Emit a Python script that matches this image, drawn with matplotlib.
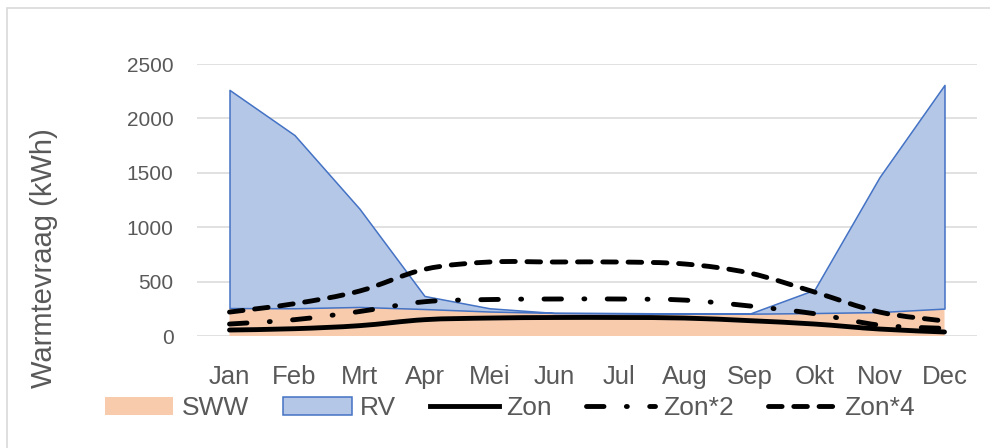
import matplotlib.pyplot as plt
from matplotlib.path import Path
from matplotlib.patches import PathPatch, Patch, Rectangle
from matplotlib.lines import Line2D

plt.rcParams['font.family'] = ['Liberation Sans', 'DejaVu Sans']

months = ['Jan', 'Feb', 'Mrt', 'Apr', 'Mei', 'Jun', 'Jul', 'Aug', 'Sep', 'Okt', 'Nov', 'Dec']
sww = [257, 255, 267, 248, 225, 212, 210, 208, 205, 211, 220, 252]
rv = [2005, 1592, 903, 120, 30, 0, 0, 0, 0, 214, 1240, 2056]
zon = [55, 67, 95, 150, 165, 170, 170, 165, 141, 110, 64, 37]
zon2 = [110, 150, 225, 315, 335, 340, 340, 330, 276, 205, 100, 70]
zon4 = [220, 297, 413, 613, 680, 680, 680, 662, 579, 404, 220, 138]

text_col = '#595959'
lw = 3.5
dashdot = (0, (3.6, 4.6, 0.2, 4.6))
dashed = (0, (2.8, 2.4))


def smooth_path(xs, ys):
    # bezier through the points, like excel's smoothed line
    n = len(xs)
    verts = [(xs[0], ys[0])]
    codes = [Path.MOVETO]
    for i in range(n - 1):
        i0 = max(i - 1, 0)
        i3 = min(i + 2, n - 1)
        c1 = (xs[i] + (xs[i + 1] - xs[i0]) / 6, ys[i] + (ys[i + 1] - ys[i0]) / 6)
        c2 = (xs[i + 1] - (xs[i3] - xs[i]) / 6, ys[i + 1] - (ys[i3] - ys[i]) / 6)
        verts += [c1, c2, (xs[i + 1], ys[i + 1])]
        codes += [Path.CURVE4] * 3
    return Path(verts, codes)


fig = plt.figure(figsize=(9.9, 4.48), dpi=100)
fig.patches.append(Rectangle((7 / 990, -0.1), 1.2, 1.1 - 8 / 448, transform=fig.transFigure,
                             fill=False, edgecolor='#D9D9D9', linewidth=1.2))
ax = fig.add_axes([197 / 990, 1 - 336 / 448, 780 / 990, 272 / 448])

x = list(range(len(months)))
ax.stackplot(x, sww, rv, colors=['#F8CBAD', '#B4C7E7'], zorder=2)
ax.collections[1].set_edgecolor('#4472C4')
ax.collections[1].set_linewidth(1.1)

for ys, ls in [(zon, '-'), (zon2, dashdot), (zon4, dashed)]:
    p = PathPatch(smooth_path(x, ys), fill=False, edgecolor='black', linewidth=lw,
                  linestyle=ls, capstyle='round', joinstyle='round', zorder=3)
    ax.add_patch(p)

ax.set_xlim(-0.5, 11.5)
ax.set_ylim(0, 2500)
ax.set_yticks(range(0, 2501, 500))
ax.set_xticks(x)
ax.set_xticklabels(months)
ax.tick_params(axis='x', length=0, pad=21, labelsize=18.5, colors=text_col)
ax.tick_params(axis='y', length=0, pad=17, labelsize=15, colors=text_col)
ax.grid(axis='y', color='#D9D9D9', linewidth=1.1, zorder=0)
ax.set_axisbelow(True)
for s in ax.spines.values():
    s.set_visible(False)

fig.text(44.5 / 990, 1 - 258 / 448, 'Warmtevraag (kWh)', rotation=90, ha='center', va='center',
         fontsize=21, color=text_col)

handles = [
    Patch(facecolor='#F8CBAD', edgecolor='none'),
    Patch(facecolor='#B4C7E7', edgecolor='#4472C4', linewidth=1.1),
    Line2D([], [], color='black', linewidth=lw),
    Line2D([], [], color='black', linewidth=lw, linestyle=dashdot, dash_capstyle='round'),
    Line2D([], [], color='black', linewidth=lw, linestyle=dashed, dash_capstyle='round'),
]
labels = ['SWW', 'RV', 'Zon', 'Zon*2', 'Zon*4']
leg = fig.legend(handles, labels, loc='center', bbox_to_anchor=(510 / 990, 1 - 408 / 448), ncol=5,
                 frameon=False, fontsize=19, handlelength=2.6, handleheight=0.7,
                 handletextpad=0.3, columnspacing=1.3, labelcolor=text_col)

plt.savefig('out.png', dpi=100)
